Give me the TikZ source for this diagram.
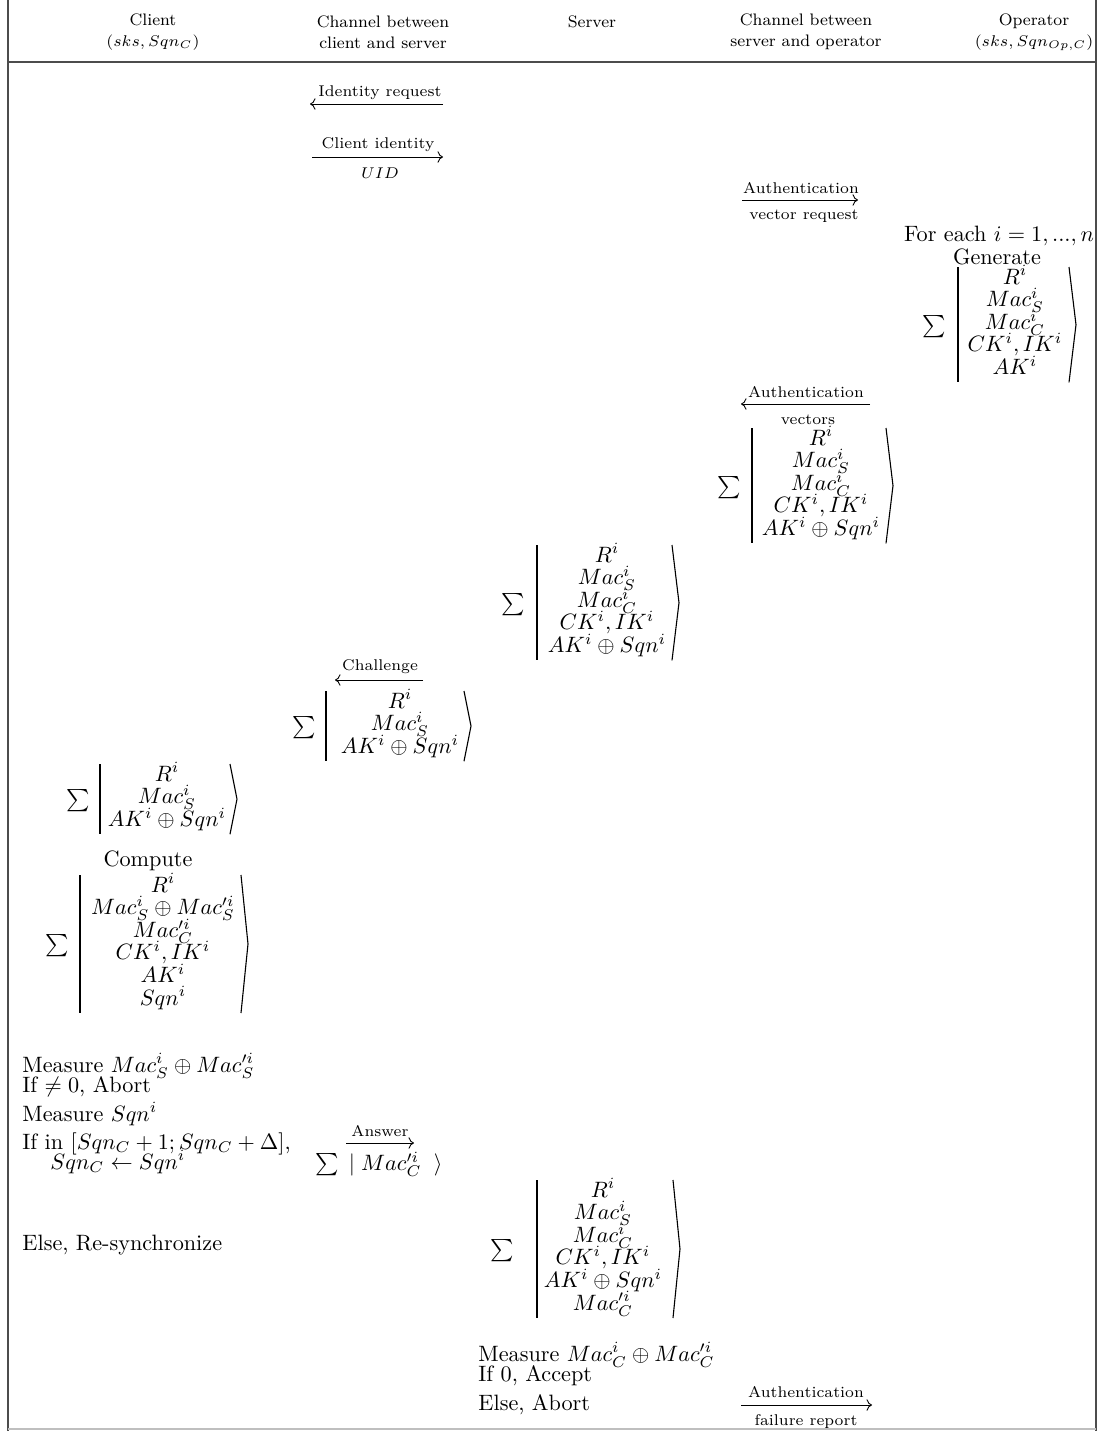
\documentclass[tikz,border=0pt]{standalone}
\usepackage{amsmath,amssymb}
\usetikzlibrary{arrows.meta}
\tikzset{
  hdr/.style={font=\fontsize{7.5}{9.5}\selectfont, align=center, inner sep=0pt},
  albl/.style={font=\scriptsize, inner sep=0pt},
  arr/.style={-{Computer Modern Rightarrow}, line width=0.4pt},
  body/.style={inner sep=0pt, anchor=base west},
  plain/.style={inner sep=0pt},
  ketrow/.style={inner sep=0pt, anchor=base},
  ketbar/.style={line width=0.8pt},
  ketang/.style={line width=0.5pt},
  frame/.style={line width=0.8pt, black!70},
}
% #1 name, #2 sigma x, #3 bar x, #4 content centre x, #5 angle tip x, #6 top y, #7 rows
\newcommand\ketblk[7]{%
  \foreach \ketitem [count=\ketidx] in {#7} {
    \node[ketrow] (#1-\ketidx) at (#4,{#6+17+(\ketidx-1)*22.6}) {\ketitem};
    \xdef\ketn{\ketidx}
  }
  \pgfmathsetmacro\ketbot{#6+17+(\ketn-1)*22.6+8}
  \pgfmathsetmacro\ketmid{(#6+\ketbot)/2}
  \node[plain] (#1s) at (#2,\ketmid+2) {$\sum$};
  \draw[ketbar] (#3,#6) -- (#3,\ketbot);
  \draw[ketang] ({#5-7},#6) -- (#5,\ketmid) -- ({#5-7},\ketbot);
}
\begin{document}
\begin{tikzpicture}[x=0.45pt,y=-0.45pt]
\useasboundingbox (0,0) rectangle (1098,1431);
% frame
\draw[frame] (8,0) -- (8,1431);
\draw[frame] (1096,0) -- (1096,1431);
\draw[frame] (8,62) -- (1096,62);
\draw[line width=0.8pt, black!25] (8,1429) -- (1096,1429);
% header
\node[hdr] (hcl) at (153,32) {Client\\$(sks,Sqn_C)$};
\node[hdr] (hcs) at (383,32) {Channel between\\client and server};
\node[hdr] (hsv) at (592,22) {Server};
\node[hdr] (hso) at (806,32) {Channel between\\server and operator};
\node[hdr] (hop) at (1034,32) {Operator\\$(sks,Sqn_{Op,C})$};
% identity request
\coordinate (ir1) at (443,104); \coordinate (ir2) at (310,104);
\draw[arr] (ir1) -- (ir2);
\node[albl] (irl) at (380,93) {Identity request};
% client identity
\coordinate (ci1) at (312,157); \coordinate (ci2) at (443,157);
\draw[arr] (ci1) -- (ci2);
\node[albl] (cil) at (378,145) {Client identity};
\node[albl] (uid) at (380,173) {$UID$};
% auth vector request
\coordinate (av1) at (742,200); \coordinate (av2) at (858,200);
\draw[arr] (av1) -- (av2);
\node[albl] (avl) at (801,188) {Authentication};
\node[albl] (avb) at (804,216) {vector request};
% operator
\node[plain] (fe) at (999,236) {For each $i=1,...,n$};
\node[plain] (gen) at (997,257) {Generate};
\ketblk{op}{934}{958}{1015}{1076}{267}{$R^i$,$Mac^i_S$,$Mac^i_C$,{$CK^i,IK^i$},$AK^i$}
% auth vectors
\coordinate (vv1) at (870,404); \coordinate (vv2) at (741,404);
\draw[arr] (vv1) -- (vv2);
\node[albl] (vvl) at (806,392) {Authentication};
\node[albl] (vvb) at (808,420) {vectors};
\ketblk{av}{729}{752}{821}{893}{428}{$R^i$,$Mac^i_S$,$Mac^i_C$,{$CK^i,IK^i$},$AK^i\oplus Sqn^i$}
% server 1
\ketblk{sa}{513}{537}{607}{679}{545}{$R^i$,$Mac^i_S$,$Mac^i_C$,{$CK^i,IK^i$},$AK^i\oplus Sqn^i$}
% challenge
\coordinate (ch1) at (423,680); \coordinate (ch2) at (335,680);
\draw[arr] (ch1) -- (ch2);
\node[albl] (chl) at (380,667) {Challenge};
\ketblk{cb}{304}{326}{400}{471}{691}{$R^i$,$Mac^i_S$,$AK^i\oplus Sqn^i$}
% client 1
\ketblk{ca}{78}{100}{167}{237}{764}{$R^i$,$Mac^i_S$,$AK^i\oplus Sqn^i$}
% compute
\node[plain] (cmp) at (148,861) {Compute};
\ketblk{cc}{57}{80}{163}{248}{875}{$R^i$,$Mac^i_S\oplus Mac'^i_S$,$Mac'^i_C$,{$CK^i,IK^i$},$AK^i$,$Sqn^i$}
% client checks
\node[body] (m1) at (22,1072) {Measure $Mac^i_S\oplus Mac'^i_S$};
\node[body] (m2) at (22,1092) {If $\neq 0$, Abort};
\node[body] (m3) at (22,1121) {Measure $Sqn^i$};
\node[body] (m4) at (22,1149) {If in $[Sqn_C+1;Sqn_C+\Delta]$,};
\node[body] (m5) at (50,1169) {$Sqn_C\leftarrow Sqn^i$};
\node[body] (m6) at (22,1250) {Else, Re-synchronize};
% answer
\coordinate (an1) at (346,1143); \coordinate (an2) at (414,1143);
\draw[arr] (an1) -- (an2);
\node[albl] (anl) at (380,1131) {Answer};
\node[plain] (anb) at (379,1164) {$\sum\;|\;Mac'^i_C\;\;\rangle$};
% server 2
\ketblk{sb}{502}{537}{603}{680}{1180}{$R^i$,$Mac^i_S$,$Mac^i_C$,{$CK^i,IK^i$},$AK^i\oplus Sqn^i$,$Mac'^i_C$}
\node[body] (m7) at (478,1361) {Measure $Mac^i_C\oplus Mac'^i_C$};
\node[body] (m8) at (478,1381) {If 0, Accept};
\node[body] (m9) at (478,1410) {Else, Abort};
% failure report
\coordinate (fr1) at (741,1405); \coordinate (fr2) at (872,1405);
\draw[arr] (fr1) -- (fr2);
\node[albl] (frl) at (806,1392) {Authentication};
\node[albl] (frb) at (806,1422) {failure report};
\end{tikzpicture}
\end{document}
